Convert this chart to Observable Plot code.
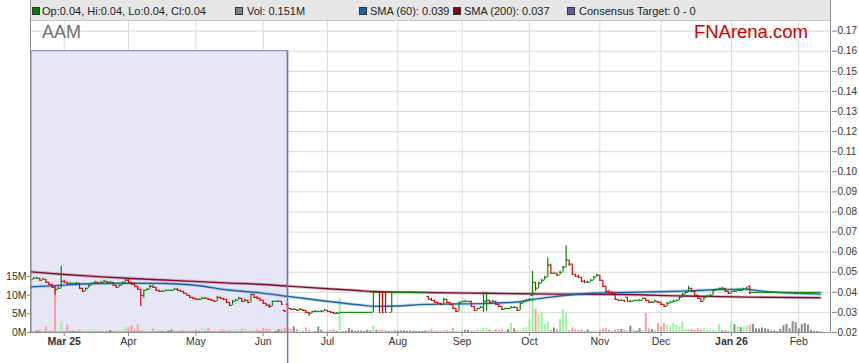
<!DOCTYPE html>
<html>
<head>
<meta charset="utf-8">
<script src="https://cdn.jsdelivr.net/npm/d3@7"></script>
<script src="https://cdn.jsdelivr.net/npm/@observablehq/plot@0.6"></script>
<style>
html,body{margin:0;padding:0;background:#fff;}
#wrap{position:relative;width:859px;height:363px;overflow:hidden;font-family:"Liberation Sans",Arial,sans-serif;}
#wrap svg{position:absolute;left:0;top:0;}
.legend{position:absolute;left:31px;top:0;width:799px;height:20px;background:#e6e6e6;border-bottom:1px solid #c8c8c8;}
.lg{position:absolute;top:4px;font-size:11px;line-height:14px;color:#222;white-space:nowrap;}
.sq{position:absolute;top:7px;width:6px;height:6px;border:1px solid #333;}
.frame{position:absolute;left:30px;top:0;width:801px;height:333px;box-sizing:border-box;border-left:1px solid #8a8a8a;border-right:1px solid #8a8a8a;border-bottom:1px solid #8a8a8a;pointer-events:none;}
.ticker{position:absolute;left:42px;top:23px;font-size:18px;line-height:18px;color:#707070;}
.brand{position:absolute;right:51px;top:23px;font-size:18.5px;line-height:18px;color:#cc0000;}
</style>
</head>
<body>
<div id="wrap">
  <div class="legend"></div>
  <div class="sq" style="left:32px;background:#008000"></div><div class="lg" style="left:42px">Op:0.04, Hi:0.04, Lo:0.04, Cl:0.04</div>
  <div class="sq" style="left:235px;background:#808080"></div><div class="lg" style="left:247px">Vol: 0.151M</div>
  <div class="sq" style="left:359px;background:#1c64a8"></div><div class="lg" style="left:370px">SMA (60): 0.039</div>
  <div class="sq" style="left:453px;background:#800020"></div><div class="lg" style="left:464px">SMA (200): 0.037</div>
  <div class="sq" style="left:567px;background:#60609a"></div><div class="lg" style="left:579px">Consensus Target: 0 - 0</div>
  <div class="frame"></div>
  <div class="ticker">AAM</div>
  <div class="brand">FNArena.com</div>
</div>
<script>
// Trading-day index (weekdays; 0 = 17 Feb 2025). Prices in cents, volume in millions.
const open = [
 4.65,4.7,4.7,4.6,4.65,4.5,4.4,4.25,4.15,4.2,
 4.55,4.5,4.45,4.45,4.45,4.45,4.2,4.05,4.2,4.35,
 4.45,4.5,4.45,4.5,4.55,4.5,4.5,4.35,4.25,4.35,
 4.5,4.6,4.5,4.4,4.3,4.15,3.85,4.1,4.15,4.3,
 4.25,4.1,4.05,4.05,4.1,4.1,4.1,4.15,4.1,4.05,
 3.95,3.85,3.75,3.7,3.65,3.65,3.7,3.7,3.65,3.6,
 3.55,3.75,3.7,3.65,3.5,3.35,3.55,3.6,3.7,3.55,
 3.6,3.5,3.9,3.75,3.7,3.6,3.45,3.35,3.3,3.55,
 3.55,3.55,3.1,3.4,3.2,3.15,3.15,3.1,3.15,3.1,
 3,2.95,3.05,3.05,3.05,3.05,3.1,3.05,3,2.95,
 2.95,3,3,3,3,3,3,3,3,3,
 3,3,4,4,4,4,4,3,4,4,
 4,4,4,4,4,4,4,4,4,3.8,
 3.65,3.6,3.5,3.45,3.4,3.65,3.5,3.4,3.2,3.05,
 3.5,3.55,3.55,3.55,3.3,3.1,3.2,3.25,3.55,3.6,
 3.5,3.55,3.4,3.3,3.15,3.2,3.2,3.25,3.25,3.1,
 3.45,3.55,3.6,3.85,4.5,4.2,4.45,4.6,4.75,5.35,
 4.95,4.95,4.85,5,5.25,5.6,5.4,4.9,4.8,4.75,
 4.55,4.5,4.5,4.6,4.75,4.85,4.6,4.3,4.05,4,
 3.95,3.65,3.6,3.6,3.75,3.55,3.55,3.6,3.6,3.6,
 3.7,3.6,3.5,3.5,3.55,3.5,3.4,3.3,3.45,3.5,
 3.55,3.6,3.75,3.9,4,4.2,4.05,3.85,3.7,3.55,
 3.75,3.8,3.85,4.1,4.15,4.2,4.2,4.05,3.95,4.05,
 4.05,4.1,4.1,4.15,4.3,4,4,4,4,4,
 4,4,4,4,4,4,4,4,4,4,
 4,4,4,4,4,4,4,4];
const high = [
 4.75,4.75,4.7,4.7,4.65,4.5,4.4,4.3,4.25,5.3,
 4.6,4.5,4.5,4.45,4.5,4.45,4.2,4.2,4.35,4.45,
 4.55,4.5,4.55,4.6,4.55,4.55,4.5,4.35,4.35,4.5,
 4.65,4.65,4.5,4.45,4.3,4.15,4.1,4.2,4.35,4.35,
 4.25,4.1,4.1,4.1,4.1,4.1,4.2,4.2,4.1,4.05,
 3.95,3.85,3.75,3.7,3.7,3.75,3.75,3.7,3.65,3.6,
 3.8,3.75,3.7,3.65,3.5,3.6,3.65,3.75,3.7,3.65,
 3.6,3.9,3.9,3.8,3.7,3.6,3.45,3.4,3.55,3.55,
 3.6,3.55,3.1,3.4,3.2,3.2,3.15,3.2,3.15,3.1,
 3,3.05,3.1,3.05,3.1,3.15,3.1,3.05,3,3,
 3,3,3,3,3,3,3,3,3,3,
 3,4,4,4,4,4,4,4,4,4,
 4,4,4,4,4,4,4,4,4,3.8,
 3.7,3.6,3.5,3.45,3.7,3.65,3.5,3.4,3.2,3.5,
 3.55,3.6,3.55,3.55,3.3,3.2,3.3,4,4,3.6,
 3.6,3.55,3.4,3.3,3.2,3.2,3.3,3.3,3.25,3.45,
 3.55,3.65,3.7,5.05,4.5,4.5,4.65,4.8,5.7,5.4,
 5,4.95,5.05,5.3,6.3,5.6,5.4,4.9,4.85,4.75,
 4.6,4.55,4.65,4.8,4.9,4.85,4.6,4.3,4.1,4.05,
 3.95,3.65,3.65,3.6,3.75,3.6,3.6,3.6,3.65,3.7,
 3.7,3.6,3.55,3.6,3.55,3.5,3.4,3.5,3.55,3.6,
 3.6,3.8,3.95,4.05,4.3,4.2,4.05,3.85,3.7,3.75,
 3.85,3.9,4.1,4.15,4.2,4.25,4.2,4.05,4.05,4.1,
 4.15,4.15,4.2,4.25,4.3,4,4,4,4,4,
 4,4,4,4,4,4,4,4,4,4,
 4,4,4,4,4,4,4,4];
const low = [
 4.65,4.65,4.55,4.6,4.45,4.35,4.2,3.85,4.15,4.2,
 4.45,4.4,4.45,4.45,4.4,4.15,4,4.05,4.2,4.35,
 4.45,4.4,4.45,4.5,4.45,4.5,4.3,4.2,4.25,4.35,
 4.5,4.45,4.35,4.25,4.1,3.3,3.7,4.1,4.15,4.2,
 4.05,4,4.05,4.05,4.1,4.1,4.1,4.05,4,3.9,
 3.85,3.7,3.65,3.6,3.65,3.65,3.65,3.6,3.55,3.5,
 3.55,3.65,3.6,3.45,3.3,3.35,3.55,3.6,3.5,3.5,
 3.45,3.5,3.7,3.65,3.55,3.4,3.3,3.2,3.3,3.5,
 3.55,3.35,3,3.15,3.1,3.15,3.1,3.1,3.05,2.95,
 2.8,2.95,3.05,3,3.05,3.05,3.05,2.95,2.9,2.95,
 2.95,3,3,3,3,3,3,3,3,3,
 3,3,4,3,3,3,4,3,4,4,
 4,4,4,4,4,4,4,4,4,3.6,
 3.55,3.45,3.4,3.35,3.4,3.45,3.35,3.15,3,3.05,
 3.5,3.55,3.55,3.25,3.1,3.1,3.2,3,3.05,3.45,
 3.5,3.35,3.25,3.1,3.15,3.15,3.2,3.25,3.05,3.1,
 3.45,3.55,3.6,3.8,4.05,4.2,4.45,4.6,4.75,4.9,
 4.95,4.8,4.85,5,5.25,5.3,4.85,4.75,4.7,4.5,
 4.45,4.45,4.5,4.6,4.75,4.55,4.25,4,3.95,3.9,
 3.6,3.6,3.6,3.5,3.55,3.55,3.55,3.6,3.6,3.6,
 3.55,3.45,3.45,3.5,3.45,3.35,3.25,3.3,3.45,3.5,
 3.55,3.6,3.75,3.9,4,4,3.8,3.65,3.5,3.55,
 3.75,3.8,3.85,4.1,4.1,4.15,4,3.9,3.95,4,
 4.05,4.05,4.1,4.15,3.9,4,4,4,4,4,
 4,4,4,4,4,4,4,4,4,4,
 4,4,4,4,4,4,4,4];
const close = [
 4.7,4.7,4.6,4.65,4.5,4.4,4.25,4.15,4.2,4.55,
 4.5,4.45,4.45,4.45,4.45,4.2,4.05,4.2,4.35,4.45,
 4.5,4.45,4.5,4.55,4.5,4.5,4.35,4.25,4.35,4.5,
 4.6,4.5,4.4,4.3,4.15,3.85,4.1,4.15,4.3,4.25,
 4.1,4.05,4.05,4.1,4.1,4.1,4.15,4.1,4.05,3.95,
 3.85,3.75,3.7,3.65,3.65,3.7,3.7,3.65,3.6,3.55,
 3.75,3.7,3.65,3.5,3.35,3.55,3.6,3.7,3.55,3.6,
 3.5,3.9,3.75,3.7,3.6,3.45,3.35,3.3,3.55,3.55,
 3.55,3.4,3.05,3.2,3.15,3.15,3.1,3.15,3.1,3,
 2.95,3.05,3.05,3.05,3.05,3.1,3.05,3,2.95,2.95,
 3,3,3,3,3,3,3,3,3,3,
 3,4,4,3,3,3,4,4,4,4,
 4,4,4,4,4,4,4,4,4,3.65,
 3.6,3.5,3.45,3.4,3.65,3.5,3.4,3.2,3.05,3.5,
 3.55,3.55,3.55,3.3,3.1,3.2,3.25,3.55,3.6,3.5,
 3.55,3.4,3.3,3.15,3.2,3.2,3.25,3.25,3.1,3.45,
 3.55,3.6,3.65,4.5,4.2,4.45,4.6,4.75,5.35,4.95,
 4.95,4.85,5,5.25,5.6,5.4,4.9,4.8,4.75,4.55,
 4.5,4.5,4.6,4.75,4.85,4.6,4.3,4.05,4,3.95,
 3.65,3.6,3.6,3.55,3.55,3.55,3.6,3.6,3.6,3.7,
 3.6,3.5,3.5,3.55,3.5,3.4,3.3,3.45,3.5,3.55,
 3.6,3.75,3.9,4,4.2,4.05,3.85,3.7,3.55,3.75,
 3.8,3.85,4.1,4.15,4.2,4.2,4.05,3.95,4.05,4.05,
 4.1,4.1,4.15,4.2,3.95,4,4,4,4,4,
 4,4,4,4,4,4,4,4,4,4,
 4,4,4,4,4,4,4,4];
const volume = [
 0.3,0.45,0.7,0.3,1.5,0.3,0.4,11.5,0.3,2.8,
 0.3,2.0,0.2,0.3,0.2,0.7,0.3,0.4,0.4,0.5,
 0.4,0.3,0.4,0.2,0.4,0.5,0.3,0.4,0.6,0.4,
 1.5,1.3,1.8,0.6,2.2,0.5,0.8,0.3,0.4,0.9,
 0.3,0.4,0.3,0.3,0.4,0.7,0.6,0.3,0.4,0.5,
 0.4,0.3,0.4,0.7,0.3,1.1,0.3,1.2,0.3,0.4,
 0.3,0.6,0.6,0.4,0.6,0.4,0.6,0.3,0.9,1.0,
 0.4,0.6,0.3,0.7,0.5,1.1,0.9,0.8,0.4,0.3,
 0.8,0.7,1.1,1.1,0.9,1.5,0.8,0.5,0.3,1.2,
 0.6,0.4,0.3,1.5,0.6,0.3,0.4,0.6,0.8,0.3,
 9.1,0.2,0.3,1.1,0.6,0.3,0.4,0.4,0.3,0.6,
 0.4,1.8,0.6,0.6,0.6,0.6,0.3,0.6,0.4,0.4,
 0.4,0.4,0.3,0.4,0.3,0.3,0.3,0.3,0.4,0.5,
 0.8,0.4,0.4,0.3,0.6,0.6,0.3,1.1,0.3,0.4,
 0.5,0.6,0.6,0.3,0.4,0.8,0.6,1.1,1.1,0.8,
 0.4,0.8,0.6,0.8,0.4,0.8,2.4,1.0,0.4,0.4,
 1.0,1.3,3.6,11.0,6.2,4.8,5.3,2.1,2.7,0.6,
 1.2,0.8,3.5,6.0,5.0,0.6,1.2,0.8,0.5,0.8,
 0.3,0.7,0.4,0.4,0.4,0.6,0.9,1.1,0.6,0.3,
 0.7,0.8,0.8,0.6,0.4,1.7,0.8,0.4,1.0,0.6,
 5.1,1.0,0.8,0.6,2.4,1.5,2.4,2.0,1.5,2.4,
 1.9,1.5,2.9,0.8,0.8,0.8,0.6,1.0,0.8,1.0,
 0.6,0.6,0.6,0.4,2.1,0.4,0.6,0.3,2.9,2.1,
 1.5,1.3,1.5,1.7,2.0,2.2,1.0,0.9,1.2,1.0,
 0.8,0.4,0.4,0.3,0.8,1.8,2.2,1.0,2.9,2.6,
 1.0,2.2,2.4,2.0,0.6,0.3,0.3,0.15];

// Moving averages (cents), read at sample indices
const sma60Idx = [-0.7,10,21,32,43,54,63,74,83,95,106,112,119,128,137,148,159,163,170,181,192,201,212,223,232,239,250,257];
const sma60    = [4.27,4.36,4.44,4.45,4.44,4.33,4.13,3.97,3.80,3.57,3.38,3.30,3.32,3.40,3.42,3.45,3.53,3.64,3.78,3.94,3.99,4.02,4.06,4.13,4.16,4.04,3.95,3.91];
const sma200Idx = [-0.7,10,21,32,43,54,64,74,81,95,106,111,128,148,170,192,212,234,257];
const sma200    = [5.02,4.89,4.78,4.69,4.61,4.53,4.46,4.40,4.33,4.19,4.09,4.04,3.99,3.95,3.91,3.89,3.82,3.76,3.73];

// Consensus target shading (index range, price top)
const consensusFrom = -0.7, consensusTo = 83, consensusTop = 0.16, consensusBottom = 0.02;

// Axis ticks
const monthIdx    = [10,31,53,75,96,119,140,162,185,205,228,250];
const monthLabels = ["Mar 25","Apr","May","Jun","Jul","Aug","Sep","Oct","Nov","Dec","Jan 26","Feb"];
const boldLabels  = ["Mar 25","Jan 26"];
const priceTicks  = [0.02,0.03,0.04,0.05,0.06,0.07,0.08,0.09,0.10,0.11,0.12,0.13,0.14,0.15,0.16,0.17];
const volTicks    = [0,5e6,10e6,15e6];

// ---- build tables
const rows = close.map((c, i) => ({i, o: open[i] / 100, h: high[i] / 100, l: low[i] / 100, c: c / 100, v: volume[i] * 1e6}));
const s60 = sma60Idx.map((i, k) => ({i, y: sma60[k] / 100}));
const s200 = sma200Idx.map((i, k) => ({i, y: sma200[k] / 100}));
const consensus = [{from: consensusFrom, to: consensusTo, low: consensusBottom, high: consensusTop}];
const labelOf = new Map(monthIdx.map((d, k) => [d, monthLabels[k]]));
const regIdx = monthIdx.filter((d, k) => !boldLabels.includes(monthLabels[k]));
const boldIdx = monthIdx.filter((d, k) => boldLabels.includes(monthLabels[k]));

const priceColor = d => d.c < d.o ? "#dc0000" : "#008a00";
const volColor = d => d.c > d.o ? "#9af59a" : d.c < d.o ? "#ff9c9c" : "#8a8a8a";

const style = {background: "transparent", fontFamily: '"Liberation Sans", Arial, sans-serif', fontSize: "10.5px", color: "#333", overflow: "visible"};
const base = {width: 859, height: 363, marginLeft: 31, marginRight: 28, marginTop: 21, marginBottom: 31, style};
const X = {domain: [-0.7, 260.7]};
const Y = {domain: [0.02, 0.1748]};
const gridColor = "#d9d9d9";

const plotA = Plot.plot({...base, x: {...X}, y: {...Y}, marks: [
  Plot.gridY(priceTicks.filter(t => t > 0.02), {stroke: gridColor, strokeOpacity: 1}),
  Plot.gridX(monthIdx, {stroke: gridColor, strokeOpacity: 1}),
  Plot.rect(consensus, {x1: "from", x2: "to", y1: "low", y2: "high", fill: "#e6e6f6", stroke: "#7b7bb8", strokeWidth: 1}),
  Plot.axisX(regIdx, {label: null, tickFormat: d => labelOf.get(d), tickSize: 4, tickPadding: 1, stroke: "#888", fill: "#333", fontSize: 10.5}),
  Plot.axisX(boldIdx, {label: null, tickFormat: d => labelOf.get(d), tickSize: 4, tickPadding: 1, stroke: "#888", fill: "#333", fontSize: 10.5, fontWeight: "bold"}),
  Plot.axisY(priceTicks, {label: null, anchor: "right", tickFormat: d3.format(".2f"), tickSize: 5, tickPadding: 1, stroke: "#888", fill: "#333", fontSize: 10})
]});

const plotB = Plot.plot({...base, x: {...X, axis: null}, y: {domain: [0, 83.3e6]}, marks: [
  Plot.ruleX(rows, {x: "i", y1: 0, y2: "v", stroke: volColor, strokeWidth: 2}),
  Plot.axisY(volTicks, {label: null, anchor: "left", tickFormat: d => (d / 1e6) + "M", tickSize: 4, tickPadding: 1, stroke: "#888", fill: "#333", fontSize: 10.5})
]});

const plotC = Plot.plot({...base, x: {...X, axis: null}, y: {...Y, axis: null}, marks: [
  Plot.line(s200, {x: "i", y: "y", stroke: "#8b1a3c", strokeWidth: 3.2, strokeOpacity: 0.25, curve: "monotone-x"}),
  Plot.line(s200, {x: "i", y: "y", stroke: "#7d0f2e", strokeWidth: 1.4, curve: "monotone-x"}),
  Plot.line(s60, {x: "i", y: "y", stroke: "#2a78c0", strokeWidth: 3.2, strokeOpacity: 0.25, curve: "monotone-x"}),
  Plot.line(s60, {x: "i", y: "y", stroke: "#1c64a8", strokeWidth: 1.4, curve: "monotone-x"}),
  Plot.ruleX(rows, {x: "i", y1: "l", y2: "h", stroke: priceColor, strokeWidth: 1.2}),
  Plot.ruleY(rows, {x1: d => d.i - 0.5, x2: "i", y: "o", stroke: priceColor, strokeWidth: 1.2}),
  Plot.ruleY(rows, {x1: "i", x2: d => d.i + 0.5, y: "c", stroke: priceColor, strokeWidth: 1.2}),
  Plot.ruleX(consensus, {x: "to", y1: "high", y2: "low", stroke: "#7474b4", strokeWidth: 1.4, insetBottom: -31})
]});

const wrap = document.getElementById("wrap");
wrap.prepend(plotA, plotB, plotC);
</script>
</body>
</html>
